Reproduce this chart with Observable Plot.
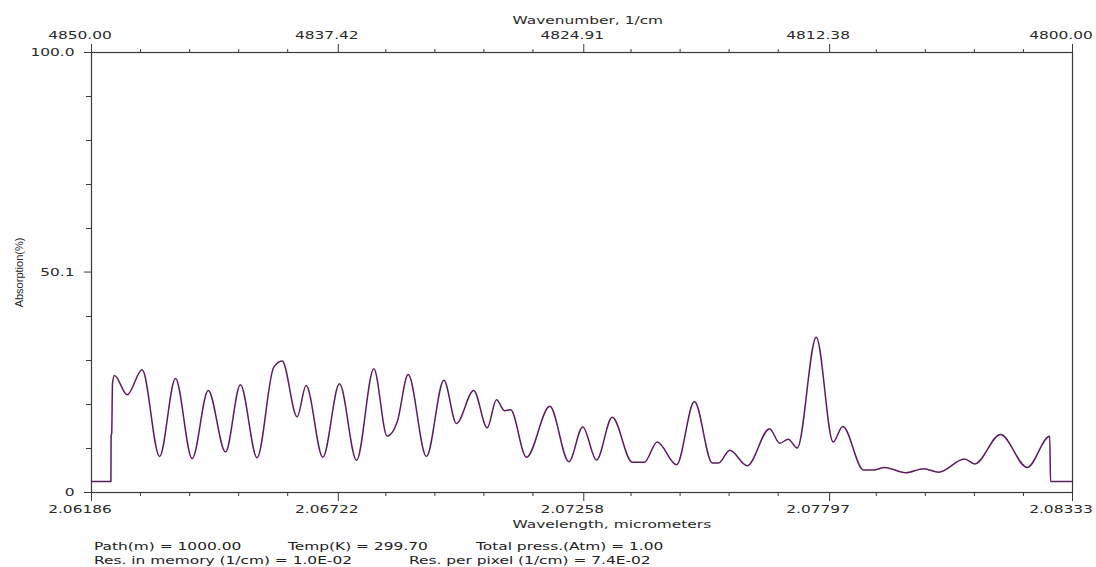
<!DOCTYPE html>
<html>
<head>
<meta charset="utf-8">
<script src="https://cdn.jsdelivr.net/npm/d3@7"></script>
<script src="https://cdn.jsdelivr.net/npm/@observablehq/plot@0.6"></script>
<style>
  html, body { margin: 0; padding: 0; background: #fff; }
  #chart { position: relative; width: 1096px; }
  #footer {
    position: relative; width: 1096px; height: 32px;
    font-family: "DejaVu Sans", Verdana, sans-serif; font-size: 11px; color: #222;
  }
  #footer span {
    position: absolute; white-space: pre; line-height: 13px;
    transform: scaleX(1.4); transform-origin: 0 0;
  }
</style>
</head>
<body>
<div id="chart"></div>
<div id="footer"></div>
<script>
// Absorption spectrum, 4850–4800 cm⁻¹ (wavenumber decreasing to the right)
const wavenumber = [
  4850.00, 4849.01, 4849.00, 4848.97, 4848.93, 4848.83, 4848.18, 4847.42, 4846.53, 4845.72,
  4844.87, 4844.05, 4843.17, 4842.41, 4841.56, 4840.71, 4840.28, 4839.52, 4839.06, 4838.21,
  4837.36, 4836.49, 4835.61, 4834.93, 4834.42, 4833.86, 4832.93, 4832.04, 4831.40, 4830.52,
  4829.83, 4829.36, 4828.95, 4828.64, 4827.83, 4826.64, 4825.67, 4824.96, 4824.26, 4823.46,
  4822.44, 4821.82, 4821.17, 4820.18, 4819.27, 4818.36, 4818.04, 4817.47, 4816.58, 4815.44,
  4814.92, 4814.49, 4814.03, 4813.06, 4812.20, 4811.71, 4810.65, 4810.14, 4809.58, 4808.51,
  4807.58, 4806.82, 4805.51, 4804.98, 4803.67, 4802.31, 4801.16, 4801.12, 4800.00
];
const absorption = [
  2.5, 2.5, 13.0, 13.4, 24.8, 26.6, 22.2, 27.9, 8.2, 25.9,
  7.7, 23.2, 9.2, 24.5, 7.9, 28.5, 29.9, 17.2, 24.3, 8.0,
  24.7, 7.3, 28.1, 12.8, 16.0, 26.8, 8.2, 25.5, 15.7, 23.2,
  14.7, 21.1, 18.6, 18.8, 8.0, 19.6, 7.0, 14.9, 7.4, 17.1,
  6.9, 6.9, 11.5, 6.3, 20.7, 6.7, 6.7, 9.6, 6.1, 14.5,
  11.2, 12.1, 10.1, 35.3, 11.5, 15.0, 5.1, 5.1, 5.7, 4.5,
  5.4, 4.6, 7.6, 6.5, 13.2, 5.7, 12.8, 2.5, 2.5
];

// Axis ticks and labels
const majorWavenumbers = [4850.00, 4837.42, 4824.91, 4812.38, 4800.00];
const topTickLabels = ["4850.00", "4837.42", "4824.91", "4812.38", "4800.00"];
const bottomTickLabels = ["2.06186", "2.06722", "2.07258", "2.07797", "2.08333"];
const yMajorTicks = [0, 50.1, 100];
const yTickLabels = ["0", "50.1", "100.0"];
const yMinorTicks = [10, 20, 30, 40, 60, 70, 80, 90];

const topTitle = "Wavenumber, 1/cm";
const bottomTitle = "Wavelength, micrometers";
const leftTitle = "Absorption(%)";

const footerLine1 = ["Path(m) = 1000.00", "Temp(K) = 299.70", "Total press.(Atm) = 1.00"];
const footerLine2 = ["Res. in memory (1/cm) = 1.0E-02", "Res. per pixel (1/cm) = 7.4E-02"];

const spectrum = wavenumber.map((nu, i) => ({nu, a: absorption[i]}));
const minorWavenumbers = d3.range(1, 20).filter(i => i % 5 !== 0).map(i => 4850 - 2.5 * i);

const axisColor = "#3a3a3a";
const lineColor = "#5c1d5e";
const textStretch = 1.4; // the chart's lettering is drawn wide

const fmtTop = d => topTickLabels[majorWavenumbers.indexOf(d)];
const fmtBottom = d => bottomTickLabels[majorWavenumbers.indexOf(d)];

const chart = Plot.plot({
  width: 1096,
  height: 535,
  marginLeft: 91,
  marginRight: 24,
  marginTop: 52,
  marginBottom: 43,
  style: {
    fontFamily: "DejaVu Sans, Verdana, sans-serif",
    fontSize: "11px",
    color: "#2a2a2a",
    background: "#fff"
  },
  x: {domain: [4850, 4800], axis: null},
  y: {domain: [0, 100], axis: null},
  marks: [
    // top axis: wavenumber
    Plot.axisX({anchor: "top", ticks: majorWavenumbers, tickSize: 9, tickFormat: () => "", stroke: axisColor, label: null}),
    Plot.axisX({anchor: "top", ticks: minorWavenumbers, tickSize: 4, tickFormat: () => "", stroke: axisColor, label: null}),
    Plot.axisX({anchor: "top", ticks: majorWavenumbers, tickSize: 0, tickPadding: 14, tickFormat: fmtTop, label: null, dx: -11.5}),
    // bottom axis: wavelength
    Plot.axisX({anchor: "bottom", ticks: majorWavenumbers, tickSize: 9, tickFormat: () => "", stroke: axisColor, label: null}),
    Plot.axisX({anchor: "bottom", ticks: minorWavenumbers, tickSize: 4, tickFormat: () => "", stroke: axisColor, label: null}),
    Plot.axisX({anchor: "bottom", ticks: majorWavenumbers, tickSize: 0, tickPadding: 13, tickFormat: fmtBottom, label: null, dx: -11.5}),
    // left axis: absorption
    Plot.axisY({anchor: "left", ticks: yMajorTicks, tickSize: 7, tickPadding: 10,
      tickFormat: d => yTickLabels[yMajorTicks.indexOf(d)], stroke: axisColor, label: null}),
    Plot.axisY({anchor: "left", ticks: yMinorTicks, tickSize: 5, tickFormat: () => "", stroke: axisColor, label: null}),
    Plot.frame({stroke: axisColor, strokeWidth: 1.2}),
    // axis titles
    Plot.text([topTitle], {text: d => d, frameAnchor: "top", textAnchor: "start", dx: -69.5, dy: -36}),
    Plot.text([bottomTitle], {text: d => d, frameAnchor: "bottom", textAnchor: "start", dx: -69.5, dy: 35}),
    Plot.text([leftTitle], {text: d => d, frameAnchor: "left", textAnchor: "middle", dx: -72, rotate: -90,
      fontFamily: "Liberation Sans, Arial, sans-serif", fontSize: 11}),
    // spectrum
    Plot.line(spectrum, {x: "nu", y: "a", stroke: lineColor, strokeWidth: 1.5, curve: "monotone-x"})
  ]
});
document.getElementById("chart").append(chart);

// widen the horizontal lettering (the rotated y title keeps its natural width)
chart.querySelectorAll("text").forEach(el => {
  const t = el.getAttribute("transform") || "";
  if (t.includes("rotate")) return;
  const len = el.getComputedTextLength();
  if (len > 0) {
    el.setAttribute("textLength", (len * textStretch).toFixed(2));
    el.setAttribute("lengthAdjust", "spacingAndGlyphs");
  }
});

// run parameters printed under the chart
const footer = document.getElementById("footer");
const line1X = [94, 288, 476];
const line2X = [94, 409];
footerLine1.forEach((t, i) => {
  const s = document.createElement("span");
  s.textContent = t; s.style.left = line1X[i] + "px"; s.style.top = "5px";
  footer.append(s);
});
footerLine2.forEach((t, i) => {
  const s = document.createElement("span");
  s.textContent = t; s.style.left = line2X[i] + "px"; s.style.top = "18.5px";
  footer.append(s);
});
</script>
</body>
</html>
